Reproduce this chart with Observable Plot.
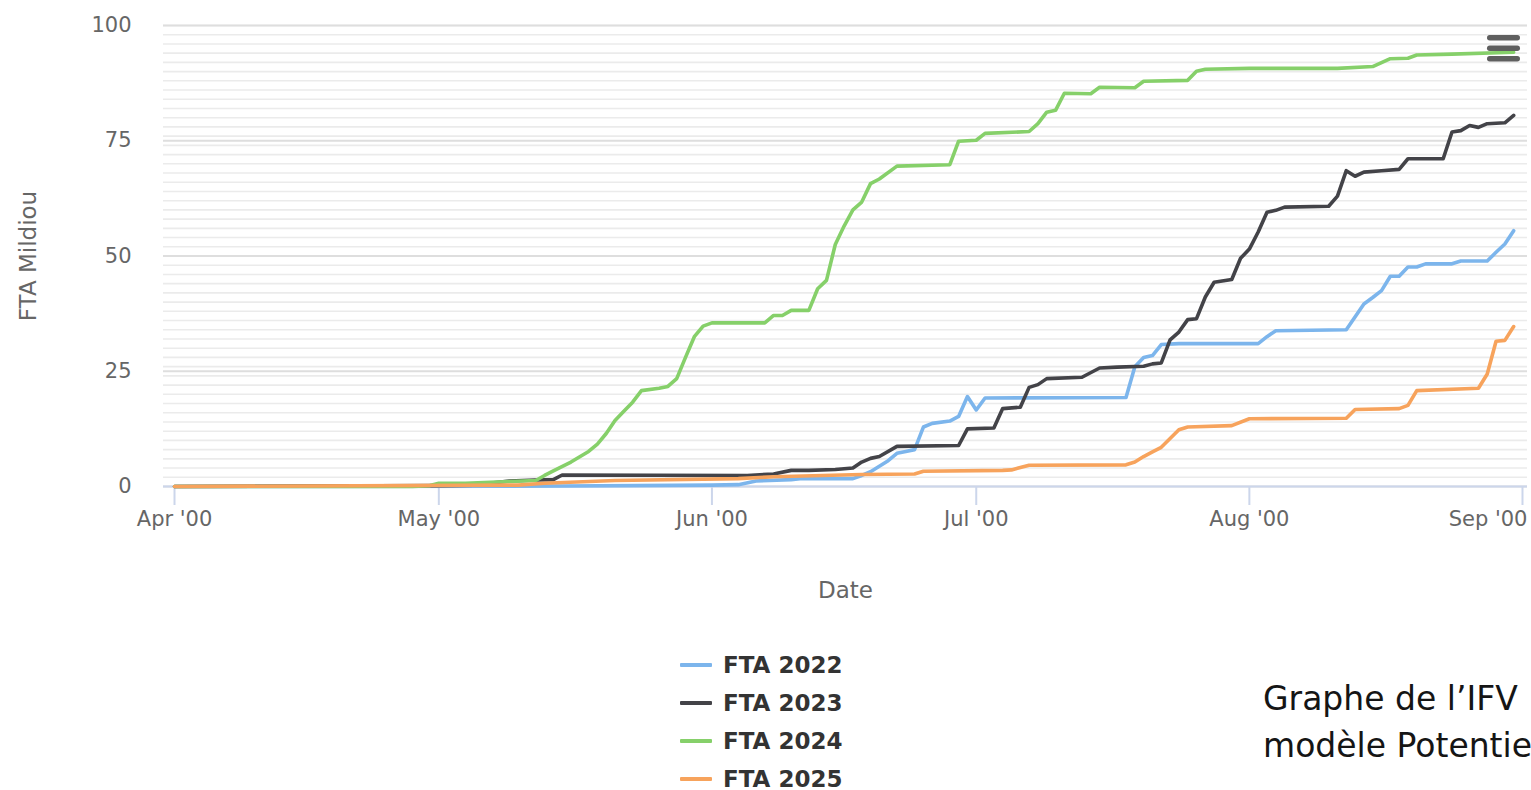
<!DOCTYPE html>
<html>
<head>
<meta charset="utf-8">
<script src="https://cdn.jsdelivr.net/npm/d3@7"></script>
<script src="https://cdn.jsdelivr.net/npm/@observablehq/plot@0.6"></script>
<style>
  html, body { margin: 0; padding: 0; background: #fff; overflow: hidden; }
  #wrap { position: relative; width: 1531px; height: 790px; font-family: "DejaVu Sans", Verdana, sans-serif; }
  #chart { position: absolute; left: 0; top: 0; }
  #legend { position: absolute; left: 680px; top: 646px; }
  .item { height: 38px; display: flex; align-items: center; font-weight: bold; font-size: 23px; color: #333; }
  .sw { width: 32px; height: 4px; margin-right: 11px; border-radius: 1px; }
  #caption { position: absolute; left: 1263px; top: 675px; font-size: 33px; line-height: 47px; color: #151515; white-space: nowrap; }
  #menu { position: absolute; left: 1484px; top: 33px; }
</style>
</head>
<body>
<div id="wrap">
  <div id="chart"></div>
  <div id="legend"></div>
  <div id="caption">Graphe de l’IFV<br>modèle Potentie</div>
  <svg id="menu" width="40" height="32" viewBox="0 0 40 32">
    <rect x="3" y="2" width="33" height="5.5" rx="2.7" fill="#5f5f5f"/>
    <rect x="3" y="12.5" width="33" height="5.5" rx="2.7" fill="#5f5f5f"/>
    <rect x="3" y="23" width="33" height="5.5" rx="2.7" fill="#5f5f5f"/>
  </svg>
</div>
<script>
// ---- Data ----
const seriesNames = ["FTA 2022", "FTA 2023", "FTA 2024", "FTA 2025"];
const seriesColors = ["#7cb5ec", "#434348", "#86d06a", "#f7a35c"];

const tickDays = ["04-01", "05-01", "06-01", "07-01", "08-01", "09-01"];
const tickLabels = ["Apr '00", "May '00", "Jun '00", "Jul '00", "Aug '00", "Sep '00"];
const yTicks = [0, 25, 50, 75, 100];

const days2022 = ["04-01","05-15","06-01","06-04","06-06","06-10","06-11","06-17","06-18","06-19","06-21","06-22","06-23","06-24","06-25","06-26","06-28","06-29","06-30","07-01","07-02","07-18","07-19","07-20","07-21","07-22","07-24","08-02","08-03","08-04","08-12","08-14","08-15","08-16","08-17","08-18","08-19","08-20","08-21","08-24","08-25","08-28","08-29","08-30","08-31"];
const fta2022 = [0,0.1,0.3,0.4,1.2,1.5,1.7,1.7,2.4,3.2,5.6,7.2,7.6,8.0,12.9,13.7,14.2,15.2,19.5,16.6,19.2,19.3,26.0,28.0,28.4,30.8,31.0,31.0,32.5,33.8,34.0,39.6,41.0,42.5,45.6,45.6,47.6,47.6,48.3,48.3,48.9,48.9,50.8,52.6,55.5];

const days2023 = ["04-01","05-01","05-05","05-09","05-12","05-14","05-15","06-05","06-08","06-10","06-12","06-15","06-17","06-18","06-19","06-20","06-22","06-29","06-30","07-03","07-04","07-06","07-07","07-08","07-09","07-13","07-15","07-17","07-20","07-21","07-22","07-23","07-24","07-25","07-26","07-27","07-28","07-30","07-31","08-01","08-02","08-03","08-04","08-05","08-10","08-11","08-12","08-13","08-14","08-16","08-18","08-19","08-23","08-24","08-25","08-26","08-27","08-28","08-30","08-31"];
const fta2023 = [0,0.2,0.3,1.2,1.4,1.5,2.5,2.4,2.7,3.5,3.5,3.7,4.0,5.3,6.1,6.5,8.7,8.9,12.5,12.7,16.9,17.2,21.5,22.1,23.4,23.7,25.7,25.9,26.1,26.6,26.8,31.8,33.5,36.2,36.4,41.1,44.3,44.9,49.5,51.5,55.2,59.5,59.9,60.6,60.8,63.0,68.5,67.3,68.2,68.5,68.8,71.1,71.1,76.9,77.2,78.3,77.9,78.7,78.9,80.5];

const days2024 = ["04-01","04-28","04-30","05-01","05-04","05-09","05-12","05-13","05-14","05-16","05-18","05-19","05-20","05-21","05-22","05-23","05-24","05-26","05-27","05-28","05-29","05-30","05-31","06-01","06-07","06-08","06-09","06-10","06-12","06-13","06-14","06-15","06-16","06-17","06-18","06-19","06-20","06-22","06-28","06-29","07-01","07-02","07-07","07-08","07-09","07-10","07-11","07-14","07-15","07-19","07-20","07-25","07-26","07-27","08-01","08-11","08-15","08-17","08-19","08-20","08-24","08-31"];
const fta2024 = [0,0,0.2,0.7,0.7,1.1,1.3,2.4,3.4,5.3,7.6,9.2,11.5,14.3,16.3,18.3,20.8,21.3,21.7,23.4,28.0,32.5,34.8,35.5,35.5,37.1,37.1,38.2,38.2,42.9,44.7,52.5,56.5,60.0,61.7,65.7,66.7,69.5,69.8,74.9,75.1,76.6,77.0,78.7,81.2,81.6,85.3,85.2,86.6,86.5,87.9,88.1,90.1,90.5,90.7,90.7,91.1,92.8,92.9,93.6,93.8,94.2];

const days2025 = ["04-01","05-10","05-13","05-21","06-04","06-08","06-18","06-24","06-25","07-04","07-05","07-07","07-18","07-19","07-20","07-21","07-22","07-24","07-25","07-30","08-01","08-12","08-13","08-18","08-19","08-20","08-27","08-28","08-29","08-30","08-31"];
const fta2025 = [0,0.3,0.7,1.3,1.7,2.1,2.6,2.7,3.3,3.5,3.6,4.6,4.7,5.3,6.5,7.5,8.5,12.3,12.9,13.2,14.7,14.8,16.7,16.9,17.6,20.8,21.3,24.4,31.5,31.7,34.7];

// ---- Build table ----
const toDate = s => new Date(`2000-${s}T00:00:00Z`);
const allDays = [days2022, days2023, days2024, days2025];
const allVals = [fta2022, fta2023, fta2024, fta2025];
const rows = [];
seriesNames.forEach((name, i) => {
  allDays[i].forEach((d, j) => rows.push({series: name, date: toDate(d), value: allVals[i][j]}));
});
const tickDates = tickDays.map(toDate);
const fmt = d => tickLabels[tickDates.findIndex(t => +t === +d)];
const minorTicks = d3.range(0, 101, 2);

const chart = Plot.plot({
  width: 1531,
  height: 610,
  marginLeft: 163,
  marginRight: 4,
  marginTop: 25,
  marginBottom: 124,
  style: {fontFamily: "'DejaVu Sans', Verdana, sans-serif", fontSize: "21px", color: "#666", background: "#fff"},
  x: {type: "utc", domain: [new Date(Date.UTC(2000, 2, 30, 18)), new Date(Date.UTC(2000, 8, 1, 13, 40))], axis: null},
  y: {domain: [0, 100], axis: null},
  color: {domain: seriesNames, range: seriesColors},
  marks: [
    Plot.ruleY(minorTicks, {stroke: "#ebebeb", strokeWidth: 1.6}),
    Plot.ruleY(yTicks, {stroke: "#dedede", strokeWidth: 2}),
    Plot.ruleY([0], {stroke: "#ccd6eb", strokeWidth: 2}),
    Plot.axisY(yTicks, {tickSize: 0, tickPadding: 32, fill: "#666", fontSize: 21, label: null}),
    Plot.axisX(tickDates, {tickSize: 19, tickPadding: 6, stroke: "#ccd6eb", strokeWidth: 2, fill: "#666", fontSize: 21,
      tickFormat: d => (+d === +tickDates[5] ? "" : fmt(d)), label: null}),
    Plot.axisX([tickDates[5]], {tickSize: 0, tickPadding: 25, fill: "#666", fontSize: 21, textAnchor: "end", dx: 5,
      tickFormat: fmt, label: null}),
    Plot.text(["FTA Mildiou"], {text: d => d, frameAnchor: "left", dx: -135, rotate: -90, textAnchor: "middle",
      lineAnchor: "middle", fontSize: 23, fill: "#666"}),
    Plot.text(["Date"], {text: d => d, frameAnchor: "bottom", dy: 104, textAnchor: "middle", lineAnchor: "middle",
      fontSize: 23, fill: "#666"}),
    Plot.line(rows, {x: "date", y: "value", z: "series", stroke: "series", strokeWidth: 3.6,
      strokeLinejoin: "round", strokeLinecap: "round"})
  ]
});
document.getElementById("chart").appendChild(chart);

// ---- Legend ----
const legend = document.getElementById("legend");
seriesNames.forEach((name, i) => {
  const item = document.createElement("div");
  item.className = "item";
  const sw = document.createElement("span");
  sw.className = "sw";
  sw.style.background = seriesColors[i];
  const label = document.createElement("span");
  label.textContent = name;
  item.appendChild(sw);
  item.appendChild(label);
  legend.appendChild(item);
});
</script>
</body>
</html>
